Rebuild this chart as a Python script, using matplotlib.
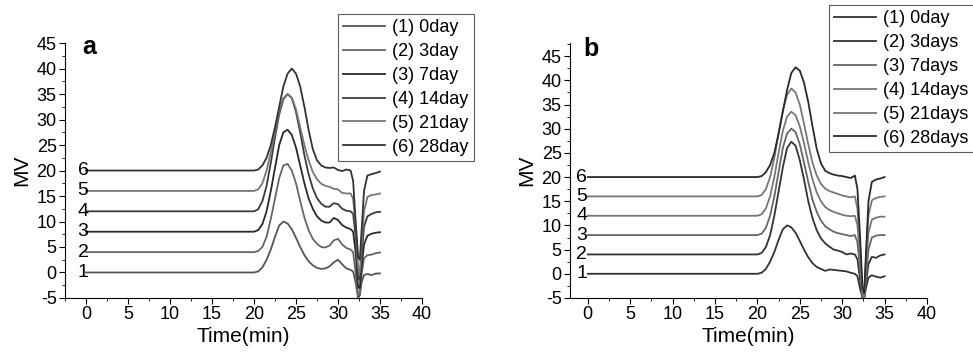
import matplotlib.pyplot as plt
from matplotlib.ticker import MultipleLocator

plt.rcParams['font.family'] = ['Liberation Sans', 'DejaVu Sans']
plt.rcParams['axes.unicode_minus'] = False

t = [0, 20, 20.5, 21, 21.5, 22, 22.5, 23, 23.5, 24, 24.5, 25, 25.5, 26, 26.5, 27, 27.5,
     28, 28.5, 29, 29.5, 30, 30.5, 31, 31.5, 31.8, 32.1, 32.4, 32.6, 32.8, 33.1, 33.5,
     34, 34.5, 35]

# panel a
a1 = [0, 0, 0.2, 1.0, 2.5, 4.5, 7.0, 9.2, 10.0, 9.6, 8.5, 6.8, 5.0, 3.4, 2.2, 1.4, 0.9,
      0.7, 0.8, 1.2, 2.0, 2.5, 1.6, 0.8, 0.5, 0.2, -2.0, -5.0, -4.5, -2.0, -0.5, -0.3,
      -0.5, -0.2, -0.2]
a2 = [4, 4, 4.2, 5.0, 7.0, 10.5, 14.5, 18.5, 21.0, 21.3, 20.0, 17.5, 14.0, 10.8, 8.3, 6.6, 5.6,
      5.0, 4.9, 5.3, 6.3, 6.6, 5.5, 4.8, 4.5, 4.0, 0.0, -4.5, -4.0, -0.5, 2.8, 3.4,
      3.5, 3.8, 3.9]
a3 = [8, 8, 8.3, 9.5, 12.0, 16.0, 20.5, 25.0, 27.5, 28.0, 27.0, 24.5, 21.0, 17.5, 14.5, 12.5, 11.0,
      10.2, 9.8, 9.8, 10.7, 10.3, 9.3, 8.8, 8.5, 8.0, 4.0, -3.0, -3.0, 1.0, 5.5, 7.2,
      7.6, 7.8, 7.9]
a4 = [12, 12, 12.4, 14.0, 17.0, 21.5, 26.5, 31.0, 34.0, 35.0, 34.2, 31.5, 27.5, 23.0, 19.3, 16.5, 14.6,
      13.5, 12.9, 12.9, 13.6, 13.4, 12.5, 12.1, 12.0, 11.5, 7.0, -1.0, -1.5, 3.0, 9.0, 11.0,
      11.5, 11.8, 11.9]
a5 = [16, 16, 16.3, 17.5, 20.0, 23.5, 27.5, 31.5, 34.2, 35.0, 34.3, 32.0, 28.5, 25.0, 22.0, 19.7, 18.3,
      17.4, 17.0, 16.8, 16.4, 16.3, 15.6, 15.5, 15.5, 14.5, 9.0, 1.0, 0.0, 5.0, 12.0, 14.8,
      15.2, 15.3, 15.5]
a6 = [20, 20, 20.2, 21.0, 22.5, 25.0, 28.5, 32.5, 36.5, 39.0, 40.0, 39.0, 36.5, 32.5, 28.0, 24.2, 22.0,
      21.0, 20.6, 20.5, 20.6, 20.1, 19.9, 20.2, 20.0, 18.0, 10.0, 3.0, 2.5, 8.0, 16.0, 19.0,
      19.3, 19.5, 19.8]

# panel b
b1 = [0, 0, 0.2, 1.0, 2.5, 4.5, 7.0, 9.2, 10.0, 9.6, 8.5, 6.8, 5.0, 3.4, 2.2, 1.4, 1.0,
      0.6, 0.9, 0.8, 0.7, 0.6, 0.5, 0.2, 0.0, -0.5, -3.0, -5.0, -5.0, -3.0, -0.8, -0.3,
      -0.6, -0.8, -0.5]
b2 = [4, 4, 4.3, 5.5, 8.0, 12.0, 17.0, 22.0, 26.0, 27.3, 26.5, 23.5, 19.5, 15.0, 11.5, 9.0, 7.3,
      6.3, 5.6, 5.0, 4.8, 4.5, 4.0, 4.2, 4.0, 3.0, -1.0, -4.8, -5.0, -2.0, 2.0, 3.5,
      3.3, 3.8, 4.0]
b3 = [8, 8, 8.3, 9.5, 12.0, 16.0, 21.0, 26.0, 29.0, 30.0, 29.3, 26.8, 23.0, 19.0, 15.3, 12.8, 11.0,
      9.8, 9.2, 8.7, 8.4, 8.2, 8.0, 7.8, 8.0, 6.5, 1.0, -4.8, -5.0, -1.0, 5.0, 7.5,
      7.9, 8.0, 8.0]
b4 = [12, 12, 12.3, 13.5, 16.0, 20.0, 25.0, 29.5, 32.5, 33.5, 32.8, 30.5, 27.0, 23.0, 19.5, 16.8, 15.0,
      13.8, 13.2, 12.8, 12.5, 12.2, 12.0, 11.9, 12.0, 10.0, 3.0, -4.5, -4.8, 1.0, 8.5, 11.2,
      11.6, 11.8, 11.8]
b5 = [16, 16, 16.3, 17.5, 20.0, 24.0, 29.0, 33.8, 37.0, 38.3, 37.5, 35.0, 31.0, 26.8, 23.0, 20.3, 18.6,
      17.6, 17.1, 16.8, 16.5, 16.2, 16.0, 15.8, 16.0, 13.5, 5.0, -4.0, -4.5, 3.0, 12.0, 15.2,
      15.7, 15.9, 16.0]
b6 = [20, 20, 20.2, 21.0, 22.5, 25.0, 29.0, 33.5, 38.0, 41.5, 42.7, 42.0, 39.5, 35.5, 30.5, 25.8, 22.8,
      21.3, 20.8, 20.5, 20.3, 20.2, 20.0, 19.8, 20.3, 17.5, 8.0, -3.0, -4.0, 4.0, 15.0, 19.0,
      19.5, 19.7, 20.0]

labels_a = ["(1) 0day", "(2) 3day", "(3) 7day", "(4) 14day", "(5) 21day", "(6) 28day"]
labels_b = ["(1) 0day", "(2) 3days", "(3) 7days", "(4) 14days", "(5) 21days", "(6) 28days"]
baselines = [0, 4, 8, 12, 16, 20]
colors_a = ['#555555', '#666666', '#2a2a2a', '#3a3a3a', '#777777', '#333333']
colors_b = ['#333333', '#333333', '#666666', '#777777', '#777777', '#2a2a2a']

fig = plt.figure(figsize=(9.73, 3.56), dpi=100)
ax_a = fig.add_axes([0.0668, 0.163, 0.3669, 0.716])
ax_b = fig.add_axes([0.5858, 0.163, 0.3669, 0.716])


def draw_panel(ax, curves, labels, colors, letter, xmin, ytop, num_x, let_pos, leg_pos):
    lines = []
    for y, c, lab in zip(curves, colors, labels):
        ln, = ax.plot(t, y, color=c, lw=1.3, label=lab)
        lines.append(ln)
    for i, b in enumerate(baselines):
        ax.text(num_x, b, str(i + 1), fontsize=14, ha='center', va='center')
    ax.text(let_pos[0], let_pos[1], letter, fontsize=18, fontweight='bold', va='center')
    ax.set_xlim(xmin, 40)
    ax.set_ylim(-5, ytop)
    ax.xaxis.set_major_locator(MultipleLocator(5))
    ax.xaxis.set_minor_locator(MultipleLocator(2.5))
    ax.set_yticks(range(-5, 50, 5))
    ax.yaxis.set_minor_locator(MultipleLocator(2.5))
    ax.tick_params(which='major', direction='out', length=4, labelsize=13, pad=2)
    ax.tick_params(which='minor', direction='out', length=2.5)
    ax.spines['top'].set_visible(False)
    ax.spines['right'].set_visible(False)
    ax.set_xlabel("Time(min)", fontsize=15, labelpad=3)
    ax.set_ylabel("MV", fontsize=15, labelpad=4)
    leg = fig.legend(handles=lines, loc='upper left', bbox_to_anchor=leg_pos,
                     fontsize=13, frameon=True, fancybox=False, handlelength=2.3,
                     handletextpad=0.4, labelspacing=0.38, borderpad=0.3,
                     borderaxespad=0)
    leg.get_frame().set_edgecolor('#333333')
    leg.get_frame().set_linewidth(0.8)


draw_panel(ax_a, [a1, a2, a3, a4, a5, a6], labels_a, colors_a, 'a', -2.5, 45, -0.35,
           (-0.4, 44.2), (0.347, 0.961))
draw_panel(ax_b, [b1, b2, b3, b4, b5, b6], labels_b, colors_b, 'b', -2.1, 47.7, -0.7,
           (-0.5, 46.4), (0.852, 0.986))

fig.savefig("out.png", dpi=100)
